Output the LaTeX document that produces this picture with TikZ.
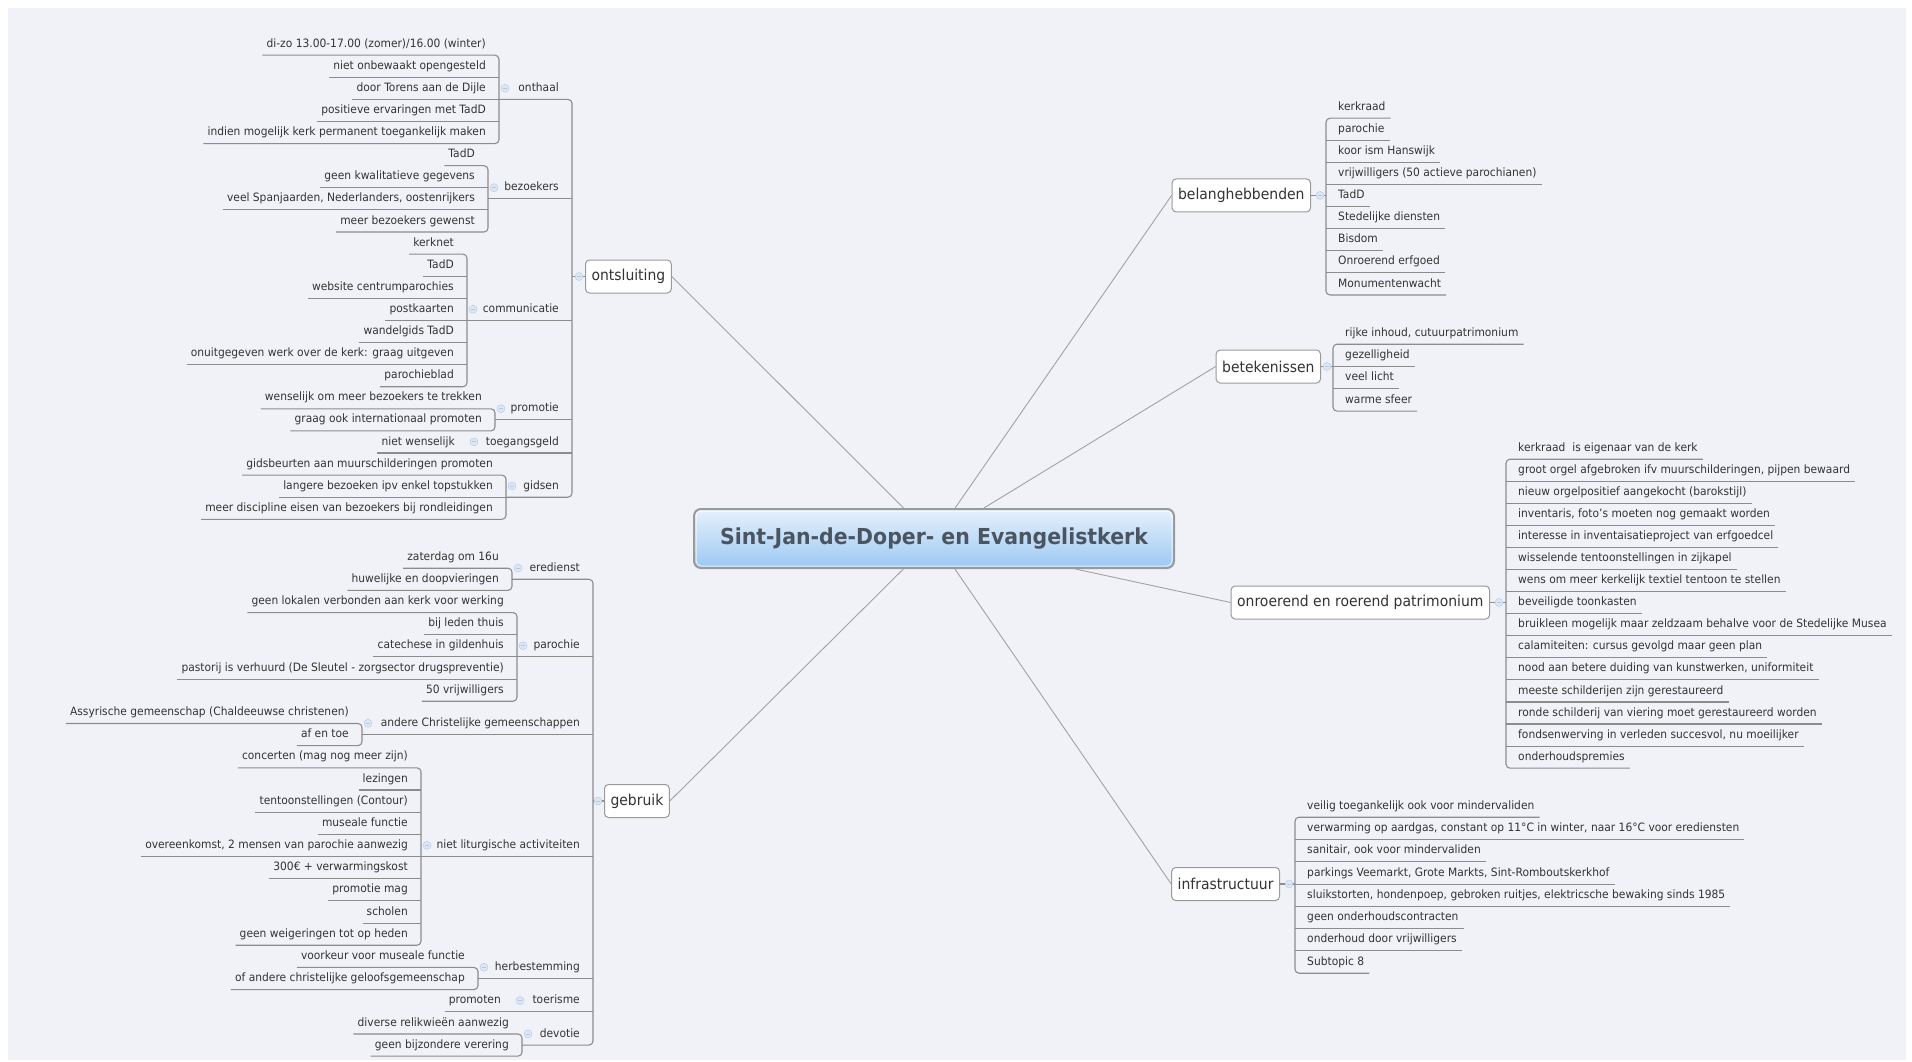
\documentclass[tikz,border=0pt]{standalone}
\usepackage{fontspec}
\setmainfont{DejaVu Sans}[FakeStretch=0.93]
\definecolor{bgcol}{HTML}{F1F2F7}
\definecolor{linecol}{HTML}{8C8C8C}
\definecolor{spokecol}{HTML}{A2A2A2}
\definecolor{boxcol}{HTML}{9A9A9A}
\definecolor{txtcol}{HTML}{333333}
\definecolor{roottxt}{HTML}{4A5561}
\definecolor{roottop}{HTML}{E6F1FC}
\definecolor{rootbot}{HTML}{9CC8F3}
\definecolor{iconfill}{HTML}{DCE7F6}
\definecolor{icondraw}{HTML}{B3C8E6}
\newcommand\leaffont{\fontsize{11.5}{13}\selectfont}
\newcommand\topicfont{\fontsize{15}{18}\selectfont}
\newcommand\rootfont{\bfseries\fontsize{22}{26}\selectfont}
\tikzset{
  brline/.style={draw=linecol, line width=1.1pt},
  spokeline/.style={draw=spokecol, line width=0.9pt},
  leafL/.style={anchor=east, inner xsep=4pt, inner ysep=5.25pt, text height=9pt,
    text depth=2.5pt, font=\leaffont, text=txtcol},
  leafR/.style={leafL, anchor=west, inner xsep=5pt},
  topic/.style={draw=boxcol, fill=white, rounded corners=4pt, line width=1pt,
    font=\topicfont, text=txtcol, inner xsep=6pt, minimum height=33pt},
  rootbox/.style={draw=boxcol, line width=2pt, rounded corners=7pt,
    top color=roottop, bottom color=rootbot,
    minimum width=480pt, minimum height=59pt, text=roottxt, font=\rootfont},
  foldicon/.style={circle, draw=icondraw, fill=iconfill, inner sep=0pt, minimum size=8pt,
    path picture={\draw[icondraw, line width=0.7pt]
      ([xshift=2pt]path picture bounding box.west) -- ([xshift=-2pt]path picture bounding box.east);}}
}
\begin{document}
\begin{tikzpicture}[x=1pt,y=-1pt]

  \useasboundingbox (0,0) rectangle (1912,1062);
  \fill[white] (0,0) rectangle (1912,1062);
  \fill[bgcol] (8,8) rectangle (1906,1060);

  % centre
  \node[rootbox] (root) at (934,538.5) {Sint-Jan-de-Doper- en Evangelistkerk};
  \draw[draw=white, opacity=.7, line width=1pt, rounded corners=5pt]
    ([shift={(3,3)}]root.north west) rectangle ([shift={(-3,-3)}]root.south east);

  % main topics
  \node[topic, anchor=west] (ontsluiting) at (585,276.5) {ontsluiting};
  \node[topic, anchor=west] (gebruik)     at (604,801)   {gebruik};
  \node[topic, anchor=east] (belang)      at (1311,195.4) {belanghebbenden};
  \node[topic, anchor=east] (betek)       at (1321,366.5) {betekenissen};
  \node[topic, anchor=east] (patri)       at (1490,602.5) {onroerend en roerend patrimonium};
  \node[topic, anchor=east] (infra)       at (1280,884)   {infrastructuur};

  \draw[spokeline] (root) -- (ontsluiting.east);
  \draw[spokeline] (root) -- (gebruik.east);
  \draw[spokeline] (root) -- (belang.west);
  \draw[spokeline] (root) -- (betek.west);
  \draw[spokeline] (root) -- (patri.west);
  \draw[spokeline] (root) -- (infra.west);

  % ontsluiting
  \begin{scope}[every node/.style={leafL}]
    \node (on1) at (490,44)    {di-zo 13.00-17.00 (zomer)/16.00 (winter)};
    \node (on2) at (490,66.1)  {niet onbewaakt opengesteld};
    \node (on3) at (490,88.2)  {door Torens aan de Dijle};
    \node (on4) at (490,110.3) {positieve ervaringen met TadD};
    \node (on5) at (490,132.4) {indien mogelijk kerk permanent toegankelijk maken};
    \node (bz1) at (479,154.5) {TadD};
    \node (bz2) at (479,176.6) {geen kwalitatieve gegevens};
    \node (bz3) at (479,198.7) {veel Spanjaarden, Nederlanders, oostenrijkers};
    \node (bz4) at (479,220.8) {meer bezoekers gewenst};
    \node (cm1) at (458,242.9) {kerknet};
    \node (cm2) at (458,265)   {TadD};
    \node (cm3) at (458,287.1) {website centrumparochies};
    \node (cm4) at (458,309.2) {postkaarten};
    \node (cm5) at (458,331.3) {wandelgids TadD};
    \node (cm6) at (458,353.4) {onuitgegeven werk over de kerk: graag uitgeven};
    \node (cm7) at (458,375.5) {parochieblad};
    \node (pr1) at (486,397.6) {wenselijk om meer bezoekers te trekken};
    \node (pr2) at (486,419.7) {graag ook internationaal promoten};
    \node (tg1) at (459,441.8) {niet wenselijk};
    \node (gd1) at (497,463.9) {gidsbeurten aan muurschilderingen promoten};
    \node (gd2) at (497,486)   {langere bezoeken ipv enkel topstukken};
    \node (gd3) at (497,508.1) {meer discipline eisen van bezoekers bij rondleidingen};

    \node (onthaal)      at (563,88.2)   {onthaal};
    \node (bezoekers)    at (563,187.65) {bezoekers};
    \node (communicatie) at (563,309.2)  {communicatie};
    \node (promotie)     at (563,408.65) {promotie};
    \node (toegangsgeld) at (563,441.8)  {toegangsgeld};
    \node (gidsen)       at (563,486)    {gidsen};
  \end{scope}

  \coordinate (bOntsluiting) at (572,0);
  \coordinate (bOnthaal)     at (499,0);
  \coordinate (bBezoekers)   at (488,0);
  \coordinate (bCommunic)    at (467,0);
  \coordinate (bPromotie)    at (495,0);
  \coordinate (bGidsen)      at (506,0);

  \begin{scope}[rounded corners=4pt]
    \draw[brline] (on1.south west) -- (on1.south -| bOnthaal) -- (on5.south -| bOnthaal) -- (on5.south west);
    \draw[brline] (bz1.south west) -- (bz1.south -| bBezoekers) -- (bz4.south -| bBezoekers) -- (bz4.south west);
    \draw[brline] (cm1.south west) -- (cm1.south -| bCommunic) -- (cm7.south -| bCommunic) -- (cm7.south west);
    \draw[brline] (pr1.south west) -- (pr1.south -| bPromotie) -- (pr2.south -| bPromotie) -- (pr2.south west);
    \draw[brline] (gd1.south west) -- (gd1.south -| bGidsen) -- (gd3.south -| bGidsen) -- (gd3.south west);
    \draw[brline] (onthaal.south -| bOnthaal) -- (onthaal.south -| bOntsluiting)
      -- (gidsen.south -| bOntsluiting) -- (gidsen.south -| bGidsen);
  \end{scope}

  \begin{scope}[every edge/.style={brline}]
    \path (on2.south west) edge (on2.south -| bOnthaal);
    \path (on3.south west) edge (on3.south -| bOnthaal);
    \path (on4.south west) edge (on4.south -| bOnthaal);
    \path (bz2.south west) edge (bz2.south -| bBezoekers);
    \path (bz3.south west) edge (bz3.south -| bBezoekers);
    \path (cm2.south west) edge (cm2.south -| bCommunic);
    \path (cm3.south west) edge (cm3.south -| bCommunic);
    \path (cm4.south west) edge (cm4.south -| bCommunic);
    \path (cm5.south west) edge (cm5.south -| bCommunic);
    \path (cm6.south west) edge (cm6.south -| bCommunic);
    \path (gd2.south west) edge (gd2.south -| bGidsen);
    \path (bezoekers.south -| bBezoekers) edge (bezoekers.south -| bOntsluiting);
    \path (communicatie.south -| bCommunic) edge (communicatie.south -| bOntsluiting);
    \path (promotie.south -| bPromotie) edge (promotie.south -| bOntsluiting);
    \path (tg1.south west) edge (toegangsgeld.south -| bOntsluiting);
    \path (ontsluiting.west) edge (ontsluiting.west -| bOntsluiting);
  \end{scope}

  % gebruik
  \begin{scope}[every node/.style={leafL}]
    \node (ed1) at (503,557)    {zaterdag om 16u};
    \node (ed2) at (503,579.18) {huwelijke en doopvieringen};
    \node (pa1) at (508,601.36) {geen lokalen verbonden aan kerk voor werking};
    \node (pa2) at (508,623.54) {bij leden thuis};
    \node (pa3) at (508,645.72) {catechese in gildenhuis};
    \node (pa4) at (508,667.9)  {pastorij is verhuurd (De Sleutel - zorgsector drugspreventie)};
    \node (pa5) at (508,690.08) {50 vrijwilligers};
    \node (ac1) at (353,712.26) {Assyrische gemeenschap (Chaldeeuwse christenen)};
    \node (ac2) at (353,734.44) {af en toe};
    \node (nl1) at (412,756.62) {concerten (mag nog meer zijn)};
    \node (nl2) at (412,778.8)  {lezingen};
    \node (nl3) at (412,800.98) {tentoonstellingen (Contour)};
    \node (nl4) at (412,823.16) {museale functie};
    \node (nl5) at (412,845.34) {overeenkomst, 2 mensen van parochie aanwezig};
    \node (nl6) at (412,867.52) {300€ + verwarmingskost};
    \node (nl7) at (412,889.7)  {promotie mag};
    \node (nl8) at (412,911.88) {scholen};
    \node (nl9) at (412,934.06) {geen weigeringen tot op heden};
    \node (hb1) at (469,956.24) {voorkeur voor museale functie};
    \node (hb2) at (469,978.42) {of andere christelijke geloofsgemeenschap};
    \node (tr1) at (505,1000.6) {promoten};
    \node (dv1) at (513,1022.78) {diverse relikwieën aanwezig};
    \node (dv2) at (513,1044.96) {geen bijzondere verering};

    \node (eredienst) at (584,568.09)  {eredienst};
    \node (parochie)  at (584,645.72)  {parochie};
    \node (andere)    at (584,723.35)  {andere Christelijke gemeenschappen};
    \node (nietlit)   at (584,845.34)  {niet liturgische activiteiten};
    \node (herbest)   at (584,967.33)  {herbestemming};
    \node (toerisme)  at (584,1000.6)  {toerisme};
    \node (devotie)   at (584,1033.87) {devotie};
  \end{scope}

  \coordinate (bGebruik)   at (593,0);
  \coordinate (bEredienst) at (512,0);
  \coordinate (bParochie)  at (517,0);
  \coordinate (bAndere)    at (362,0);
  \coordinate (bNietlit)   at (421,0);
  \coordinate (bHerbest)   at (478,0);
  \coordinate (bDevotie)   at (522,0);

  \begin{scope}[rounded corners=4pt]
    \draw[brline] (ed1.south west) -- (ed1.south -| bEredienst) -- (ed2.south -| bEredienst) -- (ed2.south west);
    \draw[brline] (pa1.south west) -- (pa1.south -| bParochie) -- (pa5.south -| bParochie) -- (pa5.south west);
    \draw[brline] (ac1.south west) -- (ac1.south -| bAndere) -- (ac2.south -| bAndere) -- (ac2.south west);
    \draw[brline] (nl1.south west) -- (nl1.south -| bNietlit) -- (nl9.south -| bNietlit) -- (nl9.south west);
    \draw[brline] (hb1.south west) -- (hb1.south -| bHerbest) -- (hb2.south -| bHerbest) -- (hb2.south west);
    \draw[brline] (dv1.south west) -- (dv1.south -| bDevotie) -- (dv2.south -| bDevotie) -- (dv2.south west);
    \draw[brline] (eredienst.south -| bEredienst) -- (eredienst.south -| bGebruik)
      -- (devotie.south -| bGebruik) -- (devotie.south -| bDevotie);
  \end{scope}

  \begin{scope}[every edge/.style={brline}]
    \path (pa2.south west) edge (pa2.south -| bParochie);
    \path (pa3.south west) edge (pa3.south -| bParochie);
    \path (pa4.south west) edge (pa4.south -| bParochie);
    \path (nl2.south west) edge (nl2.south -| bNietlit);
    \path (nl3.south west) edge (nl3.south -| bNietlit);
    \path (nl4.south west) edge (nl4.south -| bNietlit);
    \path (nl5.south west) edge (nl5.south -| bNietlit);
    \path (nl6.south west) edge (nl6.south -| bNietlit);
    \path (nl7.south west) edge (nl7.south -| bNietlit);
    \path (nl8.south west) edge (nl8.south -| bNietlit);
    \path (parochie.south -| bParochie) edge (parochie.south -| bGebruik);
    \path (andere.south -| bAndere) edge (andere.south -| bGebruik);
    \path (nietlit.south -| bNietlit) edge (nietlit.south -| bGebruik);
    \path (herbest.south -| bHerbest) edge (herbest.south -| bGebruik);
    \path (tr1.south west) edge (toerisme.south -| bGebruik);
    \path (gebruik.west) edge (gebruik.west -| bGebruik);
  \end{scope}

  % belanghebbenden, betekenissen
  \begin{scope}[every node/.style={leafR}]
    \node (bh1) at (1333,107)   {kerkraad};
    \node (bh2) at (1333,129.1) {parochie};
    \node (bh3) at (1333,151.2) {koor ism Hanswijk};
    \node (bh4) at (1333,173.3) {vrijwilligers (50 actieve parochianen)};
    \node (bh5) at (1333,195.4) {TadD};
    \node (bh6) at (1333,217.5) {Stedelijke diensten};
    \node (bh7) at (1333,239.6) {Bisdom};
    \node (bh8) at (1333,261.7) {Onroerend erfgoed};
    \node (bh9) at (1333,283.8) {Monumentenwacht};
    \node (bt1) at (1340,333)   {rijke inhoud, cutuurpatrimonium};
    \node (bt2) at (1340,355.3) {gezelligheid};
    \node (bt3) at (1340,377.6) {veel licht};
    \node (bt4) at (1340,399.9) {warme sfeer};
  \end{scope}

  % patrimonium, infrastructuur
  \begin{scope}[every node/.style={leafR}]
    \node (rp1)  at (1513,448)    {kerkraad\ \ is eigenaar van de kerk};
    \node (rp2)  at (1513,470.07) {groot orgel afgebroken ifv muurschilderingen, pijpen bewaard};
    \node (rp3)  at (1513,492.14) {nieuw orgelpositief aangekocht (barokstijl)};
    \node (rp4)  at (1513,514.21) {inventaris, foto's moeten nog gemaakt worden};
    \node (rp5)  at (1513,536.28) {interesse in inventaisatieproject van erfgoedcel};
    \node (rp6)  at (1513,558.35) {wisselende tentoonstellingen in zijkapel};
    \node (rp7)  at (1513,580.42) {wens om meer kerkelijk textiel tentoon te stellen};
    \node (rp8)  at (1513,602.49) {beveiligde toonkasten};
    \node (rp9)  at (1513,624.56) {bruikleen mogelijk maar zeldzaam behalve voor de Stedelijke Musea};
    \node (rp10) at (1513,646.63) {calamiteiten: cursus gevolgd maar geen plan};
    \node (rp11) at (1513,668.7)  {nood aan betere duiding van kunstwerken, uniformiteit};
    \node (rp12) at (1513,690.77) {meeste schilderijen zijn gerestaureerd};
    \node (rp13) at (1513,712.84) {ronde schilderij van viering moet gerestaureerd worden};
    \node (rp14) at (1513,734.91) {fondsenwerving in verleden succesvol, nu moeilijker};
    \node (rp15) at (1513,756.98) {onderhoudspremies};
    \node (in1) at (1302,806)    {veilig toegankelijk ook voor mindervaliden};
    \node (in2) at (1302,828.29) {verwarming op aardgas, constant op 11°C in winter, naar 16°C voor erediensten};
    \node (in3) at (1302,850.57) {sanitair, ook voor mindervaliden};
    \node (in4) at (1302,872.86) {parkings Veemarkt, Grote Markts, Sint-Romboutskerkhof};
    \node (in5) at (1302,895.14) {sluikstorten, hondenpoep, gebroken ruitjes, elektricsche bewaking sinds 1985};
    \node (in6) at (1302,917.43) {geen onderhoudscontracten};
    \node (in7) at (1302,939.71) {onderhoud door vrijwilligers};
    \node (in8) at (1302,962)    {Subtopic 8};
  \end{scope}

  \coordinate (bBelang) at (1326,0);
  \coordinate (bBetek)  at (1333,0);
  \coordinate (bPatri)  at (1506,0);
  \coordinate (bInfra)  at (1295,0);

  \begin{scope}[rounded corners=4pt]
    \draw[brline] (bh1.south east) -- (bh1.south -| bBelang) -- (bh9.south -| bBelang) -- (bh9.south east);
    \draw[brline] (bt1.south east) -- (bt1.south -| bBetek) -- (bt4.south -| bBetek) -- (bt4.south east);
    \draw[brline] (rp1.south east) -- (rp1.south -| bPatri) -- (rp15.south -| bPatri) -- (rp15.south east);
    \draw[brline] (in1.south east) -- (in1.south -| bInfra) -- (in8.south -| bInfra) -- (in8.south east);
  \end{scope}

  \begin{scope}[every edge/.style={brline}]
    \path (bh2.south -| bBelang) edge (bh2.south east);
    \path (bh3.south -| bBelang) edge (bh3.south east);
    \path (bh4.south -| bBelang) edge (bh4.south east);
    \path (bh5.south -| bBelang) edge (bh5.south east);
    \path (bh6.south -| bBelang) edge (bh6.south east);
    \path (bh7.south -| bBelang) edge (bh7.south east);
    \path (bh8.south -| bBelang) edge (bh8.south east);
    \path (bt2.south -| bBetek) edge (bt2.south east);
    \path (bt3.south -| bBetek) edge (bt3.south east);
    \path (rp2.south -| bPatri) edge (rp2.south east);
    \path (rp3.south -| bPatri) edge (rp3.south east);
    \path (rp4.south -| bPatri) edge (rp4.south east);
    \path (rp5.south -| bPatri) edge (rp5.south east);
    \path (rp6.south -| bPatri) edge (rp6.south east);
    \path (rp7.south -| bPatri) edge (rp7.south east);
    \path (rp8.south -| bPatri) edge (rp8.south east);
    \path (rp9.south -| bPatri) edge (rp9.south east);
    \path (rp10.south -| bPatri) edge (rp10.south east);
    \path (rp11.south -| bPatri) edge (rp11.south east);
    \path (rp12.south -| bPatri) edge (rp12.south east);
    \path (rp13.south -| bPatri) edge (rp13.south east);
    \path (rp14.south -| bPatri) edge (rp14.south east);
    \path (in2.south -| bInfra) edge (in2.south east);
    \path (in3.south -| bInfra) edge (in3.south east);
    \path (in4.south -| bInfra) edge (in4.south east);
    \path (in5.south -| bInfra) edge (in5.south east);
    \path (in6.south -| bInfra) edge (in6.south east);
    \path (in7.south -| bInfra) edge (in7.south east);
    \path (belang.east) edge (belang.east -| bBelang);
    \path (betek.east) edge (betek.east -| bBetek);
    \path (patri.east) edge (patri.east -| bPatri);
    \path (infra.east) edge (infra.east -| bInfra);
  \end{scope}

  % collapse icons
  \begin{scope}[every node/.style={foldicon}]
    \node (iOnthaal)   at (505,88.2)   {};
    \node (iBezoekers) at (494,187.65) {};
    \node (iCommunic)  at (473,309.2)  {};
    \node (iPromotie)  at (501,408.65) {};
    \node (iToegang)   at (474,441.8)  {};
    \node (iGidsen)    at (512,486)    {};
    \node (iOntsl)     at (579,276.5)  {};
    \node (iEredienst) at (518,568.09) {};
    \node (iParochie)  at (523,645.72) {};
    \node (iAndere)    at (368,723.35) {};
    \node (iNietlit)   at (427,845.34) {};
    \node (iHerbest)   at (484,967.33) {};
    \node (iToerisme)  at (520,1000.6) {};
    \node (iDevotie)   at (528,1033.87) {};
    \node (iGebruik)   at (598,801)    {};
    \node (iBelang)    at (1320,195.4) {};
    \node (iBetek)     at (1327,366.5) {};
    \node (iPatri)     at (1499,602.5) {};
    \node (iInfra)     at (1289,884)   {};
  \end{scope}

\end{tikzpicture}
\end{document}
